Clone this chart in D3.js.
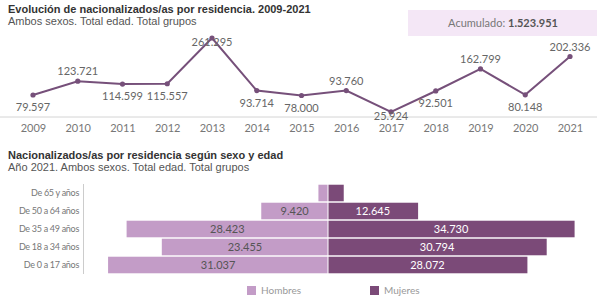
<!DOCTYPE html>
<html>
<head>
<meta charset="utf-8">
<script src="https://d3js.org/d3.v7.min.js"></script>
<style>
  body { margin: 0; background: #fff; }
  svg { display: block; }
  .title { font-family: Arial, "Liberation Sans", sans-serif; font-weight: bold; font-size: 11px; fill: #333; }
  .subtitle { font-family: Arial, "Liberation Sans", sans-serif; font-size: 11px; fill: #555; }
  .lbl { font-family: Lato, "Open Sans", sans-serif; font-size: 11px; }
</style>
</head>
<body>
<script>
  // line chart data
  var years = [2009, 2010, 2011, 2012, 2013, 2014, 2015, 2016, 2017, 2018, 2019, 2020, 2021];
  var totals = [79597, 123721, 114599, 115557, 261295, 93714, 78000, 93760, 25924, 92501, 162799, 80148, 202336];
  // label placement: -1 above, 1 below, 0 on point
  var labelPos = [1, -1, 1, 1, 0, 1, 1, -1, 0, 1, -1, 1, -1];

  // pyramid data
  var ageGroups = ["De 65 y años", "De 50 a 64 años", "De 35 a 49 años", "De 18 a 34 años", "De 0 a 17 años"];
  var hombres = [1350, 9420, 28423, 23455, 31037];
  var mujeres = [2150, 12645, 34730, 30794, 28072];
  var showLabel = [false, true, true, true, true];

  var colLine = "#76507a", colH = "#c39cc7", colM = "#7b4a78";
  var fmt = function(v) { return d3.format(",")(v).replace(/,/g, "."); };

  var svg = d3.select("body").append("svg").attr("width", 600).attr("height", 300);

  /////////////////////////  top chart
  svg.append("text").attr("class", "title").attr("x", 8).attr("y", 13)
    .text("Evolución de nacionalizados/as por residencia. 2009-2021");
  svg.append("text").attr("class", "subtitle").attr("x", 8).attr("y", 25)
    .text("Ambos sexos. Total edad. Total grupos");

  // accumulated box
  svg.append("rect").attr("x", 408).attr("y", 10).attr("width", 189).attr("height", 26).attr("fill", "#f4e7f6");
  var acc = svg.append("text").attr("class", "lbl").attr("x", 503).attr("y", 27).attr("text-anchor", "middle").attr("fill", "#777");
  acc.append("tspan").text("Acumulado: ");
  acc.append("tspan").attr("font-weight", "bold").attr("fill", "#555").text(fmt(d3.sum(totals)));

  var x = d3.scalePoint().domain(years).range([33, 570]);
  var y = d3.scaleLinear().domain([0, 261295]).range([120, 38]);

  svg.append("line").attr("x1", 0).attr("x2", 597).attr("y1", 117).attr("y2", 117)
    .attr("stroke", "#d4d4d4");

  var xAxis = svg.append("g").attr("transform", "translate(0,117)")
    .call(d3.axisBottom(x).tickSize(0).tickPadding(7));
  xAxis.select(".domain").remove();
  xAxis.selectAll("text").attr("class", "lbl").attr("fill", "#777").attr("font-size", 11);

  var pts = years.map(function(d, i) { return {year: d, v: totals[i], pos: labelPos[i]}; });

  svg.append("path").datum(pts)
    .attr("fill", "none").attr("stroke", colLine).attr("stroke-width", 2)
    .attr("d", d3.line().x(function(d) { return x(d.year); }).y(function(d) { return y(d.v); }));

  svg.selectAll(".dot").data(pts).enter().append("circle")
    .attr("class", "dot")
    .attr("cx", function(d) { return x(d.year); })
    .attr("cy", function(d) { return y(d.v); })
    .attr("r", 2.6).attr("fill", colLine);

  svg.selectAll(".vlab").data(pts).enter().append("text")
    .attr("class", "vlab lbl").attr("fill", "#666").attr("text-anchor", "middle")
    .attr("x", function(d) { return x(d.year); })
    .attr("y", function(d) {
      if (d.pos < 0) return y(d.v) - 6;
      if (d.pos > 0) return y(d.v) + 16;
      return y(d.v) + 8;
    })
    .text(function(d) { return fmt(d.v); });

  /////////////////////////  pyramid
  svg.append("text").attr("class", "title").attr("x", 8).attr("y", 159)
    .text("Nacionalizados/as por residencia según sexo y edad");
  svg.append("text").attr("class", "subtitle").attr("x", 8).attr("y", 171)
    .text("Año 2021. Ambos sexos. Total edad. Total grupos");

  var mid = 328;
  var band = d3.scaleBand().domain(ageGroups).range([184, 274]).paddingInner(0.08).paddingOuter(0.04);
  var w = d3.scaleLinear().domain([0, 35000]).range([0, 248]);

  var rows = ageGroups.map(function(g, i) { return {g: g, h: hombres[i], m: mujeres[i], show: showLabel[i]}; });

  svg.selectAll(".cat").data(rows).enter().append("text")
    .attr("class", "cat").attr("x", 79).attr("y", function(d) { return band(d.g) + band.bandwidth() / 2; })
    .attr("dy", "0.35em").attr("text-anchor", "end")
    .attr("font-family", "Lato, sans-serif").attr("font-size", 9).attr("letter-spacing", -0.3).attr("fill", "#777")
    .text(function(d) { return d.g; });

  svg.append("line").attr("x1", 83.5).attr("x2", 83.5).attr("y1", 184).attr("y2", 274).attr("stroke", "#ccc");

  svg.selectAll(".barH").data(rows).enter().append("rect")
    .attr("class", "barH")
    .attr("x", function(d) { return mid - w(d.h); })
    .attr("y", function(d) { return band(d.g); })
    .attr("width", function(d) { return w(d.h) - 0.5; })
    .attr("height", band.bandwidth()).attr("fill", colH);

  svg.selectAll(".barM").data(rows).enter().append("rect")
    .attr("class", "barM")
    .attr("x", mid + 0.5)
    .attr("y", function(d) { return band(d.g); })
    .attr("width", function(d) { return w(d.m); })
    .attr("height", band.bandwidth()).attr("fill", colM);

  svg.selectAll(".labH").data(rows.filter(function(d) { return d.show; })).enter().append("text")
    .attr("class", "lbl").attr("text-anchor", "middle").attr("fill", "#555")
    .attr("x", function(d) { return mid - w(d.h) / 2; })
    .attr("y", function(d) { return band(d.g) + band.bandwidth() / 2; })
    .attr("dy", "0.35em")
    .text(function(d) { return fmt(d.h); });

  svg.selectAll(".labM").data(rows.filter(function(d) { return d.show; })).enter().append("text")
    .attr("class", "lbl").attr("text-anchor", "middle").attr("fill", "#fff")
    .attr("x", function(d) { return mid + w(d.m) / 2; })
    .attr("y", function(d) { return band(d.g) + band.bandwidth() / 2; })
    .attr("dy", "0.35em")
    .text(function(d) { return fmt(d.m); });

  // legend
  var legend = [{name: "Hombres", c: colH, x: 247}, {name: "Mujeres", c: colM, x: 370}];
  var lg = svg.selectAll(".lg").data(legend).enter().append("g")
    .attr("transform", function(d) { return "translate(" + d.x + ",286)"; });
  lg.append("rect").attr("width", 9).attr("height", 9).attr("fill", function(d) { return d.c; });
  lg.append("text").attr("x", 14).attr("y", 8).attr("font-family", "Lato, sans-serif").attr("font-size", 10)
    .attr("fill", "#999").text(function(d) { return d.name; });
</script>
</body>
</html>
